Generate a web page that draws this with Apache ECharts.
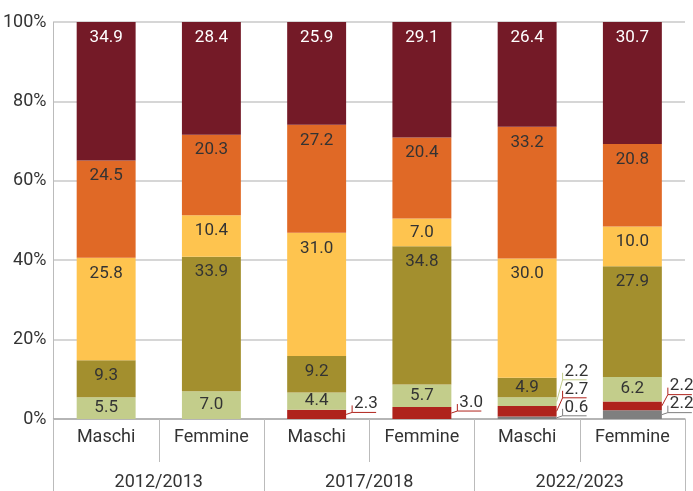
<!DOCTYPE html>
<html>
<head>
<meta charset="utf-8">
<script src="https://cdn.jsdelivr.net/npm/echarts@6/dist/echarts.min.js"></script>
<style>
  html, body { margin: 0; padding: 0; background: #fff; }
  #main { width: 693px; height: 491px; }
</style>
</head>
<body>
<div id="main"></div>
<script>
// categorie (6 barre) e gruppi di anni
const sesso = ["Maschi", "Femmine", "Maschi", "Femmine", "Maschi", "Femmine"];
const anni = ["2012/2013", "2017/2018", "2022/2023"];
const tickY = [0, 20, 40, 60, 80, 100];

// valori percentuali, dal basso verso l'alto
const grigio = [0, 0, 0, 0, 0.6, 2.2];
const rosso = [0, 0, 2.3, 3.0, 2.7, 2.2];
const verdeChiaro = [5.5, 7.0, 4.4, 5.7, 2.2, 6.2];
const oliva = [9.3, 33.9, 9.2, 34.8, 4.9, 27.9];
const giallo = [25.8, 10.4, 31.0, 7.0, 30.0, 10.0];
const arancio = [24.5, 20.3, 27.2, 20.4, 33.2, 20.8];
const bordeaux = [34.9, 28.4, 25.9, 29.1, 26.4, 30.7];

const serie = [grigio, rosso, verdeChiaro, oliva, giallo, arancio, bordeaux];
const colori = ["#7f7f7f", "#af231c", "#c3cd8b", "#a38f2e", "#fec44f", "#e06926", "#741a27"];
const FONT = "Roboto, sans-serif";

const chartDom = document.getElementById("main");
const myChart = echarts.init(chartDom);

// serie a barre impilate
const barSeries = serie.map((vals, k) => ({
  type: "bar",
  stack: "tot",
  barWidth: "56%",
  itemStyle: { color: colori[k] },
  data: vals.map((v) => ({
    value: v || null,
    label: {
      show: v >= 4,
      position: v < 8 ? "inside" : "insideTop",
      distance: 7,
      color: k === 6 ? "#fff" : "#333",
      fontFamily: FONT,
      fontSize: 17,
      formatter: () => v.toFixed(1),
    },
  })),
  emphasis: { disabled: true },
}));

// etichette esterne con linea guida per i valori piccoli
const labelSeries = {
  type: "custom",
  clip: false,
  silent: true,
  data: sesso.map((_, i) => [i]),
  renderItem: (params, api) => {
    const i = api.value(0);
    const bandW = api.size([1, 0])[0];
    const xr = api.coord([i, 0])[0] + bandW * 0.28;
    const children = [];
    let base = 0;
    let prevUy = Infinity;
    serie.forEach((vals, k) => {
      const v = vals[i];
      if (v > 0 && v < 4) {
        const midY = api.coord([i, base + v / 2])[1];
        const uy = Math.min(midY - 2, prevUy - 18);
        prevUy = uy;
        const c = colori[k];
        children.push({
          type: "polyline",
          shape: { points: [[xr, midY], [xr + 6, uy], [xr + 30, uy]] },
          style: { stroke: c, lineWidth: 1, fill: null },
        });
        children.push({
          type: "line",
          shape: { x1: xr + 6, y1: uy, x2: xr + 6, y2: uy - 7 },
          style: { stroke: c, lineWidth: 1 },
        });
        children.push({
          type: "text",
          x: xr + 8,
          y: uy,
          style: {
            text: v.toFixed(1),
            fill: "#333",
            fontFamily: FONT,
            fontSize: 17,
            verticalAlign: "bottom",
          },
        });
      }
      base += v;
    });
    return { type: "group", children };
  },
};

const option = {
  animation: false,
  grid: { left: 53, right: 8, top: 22, bottom: 72 },
  xAxis: [
    {
      type: "category",
      data: sesso,
      axisLine: { show: true, lineStyle: { color: "#aaa", width: 1.5 } },
      axisTick: { show: true, interval: 0, length: 43, lineStyle: { color: "#bbb" } },
      axisLabel: { interval: 0, margin: 9, color: "#333", fontFamily: FONT, fontSize: 18 },
    },
    {
      type: "category",
      data: anni,
      position: "bottom",
      axisLine: { show: false },
      axisTick: { show: true, interval: 0, length: 72, lineStyle: { color: "#bbb" } },
      axisLabel: { interval: 0, margin: 54, color: "#333", fontFamily: FONT, fontSize: 18 },
    },
  ],
  yAxis: {
    type: "value",
    min: tickY[0],
    max: tickY[tickY.length - 1],
    interval: 20,
    axisLine: { show: true, lineStyle: { color: "#bbb" } },
    axisTick: { show: false },
    splitLine: { lineStyle: { color: "#c8c8c8", width: 1.5 } },
    axisLabel: { formatter: "{value}%", margin: 7, color: "#333", fontFamily: FONT, fontSize: 18 },
  },
  series: [...barSeries, labelSeries],
};
option && myChart.setOption(option);
</script>
</body>
</html>
